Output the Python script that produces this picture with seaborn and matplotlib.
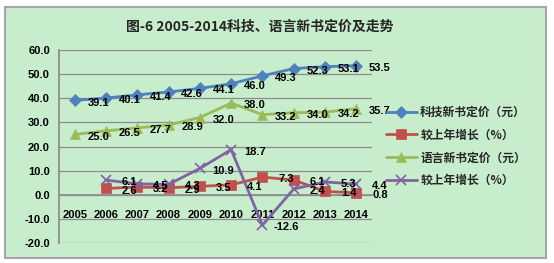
import matplotlib
matplotlib.use("Agg")
import matplotlib.pyplot as plt
import seaborn as sns
import numpy as np
from matplotlib.patches import FancyBboxPatch

sns.set_theme(style="white")
plt.rcParams['font.family'] = ['Noto Sans CJK SC', 'DejaVu Sans']
plt.rcParams['font.weight'] = 'bold'
NUMFONT = ['Liberation Sans', 'DejaVu Sans']

years = [2005, 2006, 2007, 2008, 2009, 2010, 2011, 2012, 2013, 2014]
growth_years = [2006, 2007, 2008, 2009, 2010, 2011, 2012, 2013, 2014]
sci_price = [39.1, 40.1, 41.4, 42.6, 44.1, 46.0, 49.3, 52.3, 53.1, 53.5]
sci_growth = [2.6, 3.2, 2.9, 3.5, 4.1, 7.3, 6.1, 1.4, 0.8]
lang_price = [25.0, 26.5, 27.7, 28.9, 32.0, 38.0, 33.2, 34.0, 34.2, 35.7]
lang_growth = [6.1, 4.5, 4.3, 10.9, 18.7, -12.6, 2.4, 5.3, 4.4]
series_names = ['科技新书定价（元）', '较上年增长（%）', '语言新书定价（元）', '较上年增长（%）']
title = '图-6 2005-2014科技、语言新书定价及走势'
yticks = [-20, -10, 0, 10, 20, 30, 40, 50, 60]

W, H = 554, 263
fig = plt.figure(figsize=(W / 100, H / 100), dpi=100)
fig.patch.set_facecolor('white')
bg = '#C7EDCC'
rect = FancyBboxPatch((5 / W, 5 / H), 541 / W, 251 / H, boxstyle='square,pad=0',
                      transform=fig.transFigure, facecolor=bg, edgecolor='#A6A6A6',
                      linewidth=1.5, zorder=-10)
fig.patches.append(rect)

ax = fig.add_axes([59 / W, 1 - 243 / H, (372 - 59) / W, (243 - 50) / H])
ax.set_facecolor('none')

colors = ['#4F81BD', '#C0504D', '#9BBB59', '#8064A2']
markers = ['D', 's', '^', 'x']
msizes = [6, 7, 7.5, 7]
xs = [years, growth_years, years, growth_years]
ys = [sci_price, sci_growth, lang_price, lang_growth]

for x, y, c, m, ms, name in zip(xs, ys, colors, markers, msizes, series_names):
    sns.lineplot(x=x, y=y, ax=ax, color=c, marker=m, markersize=ms, linewidth=2.0,
                 markeredgecolor=c, markeredgewidth=1.2 if m == 'x' else 0.5,
                 label=name, zorder=3)
    for xi, yi in zip(x, y):
        ax.annotate(f'{yi:.1f}', (xi, yi), xytext=(17, -1.5), textcoords='offset points',
                    ha='center', va='center', fontsize=8, fontweight='bold',
                    family=NUMFONT, color='black', zorder=5, annotation_clip=False)

# spine position must be set before tick labels (it resets ticks)
for s in ['top', 'right']:
    ax.spines[s].set_visible(False)
ax.spines['left'].set_color('#8C8C8C')
ax.spines['bottom'].set_color('#8C8C8C')
ax.spines['bottom'].set_position(('data', 0))

ax.set_xlim(2004.5, 2014.5)
ax.set_ylim(-20, 60)
ax.set_yticks(yticks)
ax.set_yticklabels([f'{v:.1f}' for v in yticks], fontsize=8, fontweight='bold',
                   family=NUMFONT)
ax.set_xticks(years)
ax.set_xticklabels([str(y) for y in years], fontsize=8, fontweight='bold',
                   family=NUMFONT)
ax.set_xticks(np.arange(2005.5, 2014.5, 1.0), minor=True)
ax.grid(axis='y', color='#8C8C8C', linewidth=0.9, zorder=0)
ax.grid(axis='x', visible=False)
ax.tick_params(axis='y', which='major', length=4, color='#8C8C8C', pad=2.5, labelcolor='black')
ax.tick_params(axis='x', which='major', length=0, pad=11, labelcolor='black')
ax.tick_params(axis='x', which='minor', length=3, color='#8C8C8C', direction='out')
ax.set_xlabel('')
ax.set_ylabel('')

leg = ax.legend(loc='center left', bbox_to_anchor=(386 / W, 1 - 146.5 / H),
                bbox_transform=fig.transFigure, frameon=False,
                handlelength=2.6, handletextpad=0.3, labelspacing=0.83,
                borderpad=0, borderaxespad=0,
                prop={'weight': 'bold', 'size': 8.5})

fig.text(260 / W, 1 - 27 / H, title, ha='center', va='center', fontsize=10,
         fontweight='bold')

fig.savefig('out.png', dpi=100, facecolor=fig.get_facecolor())
